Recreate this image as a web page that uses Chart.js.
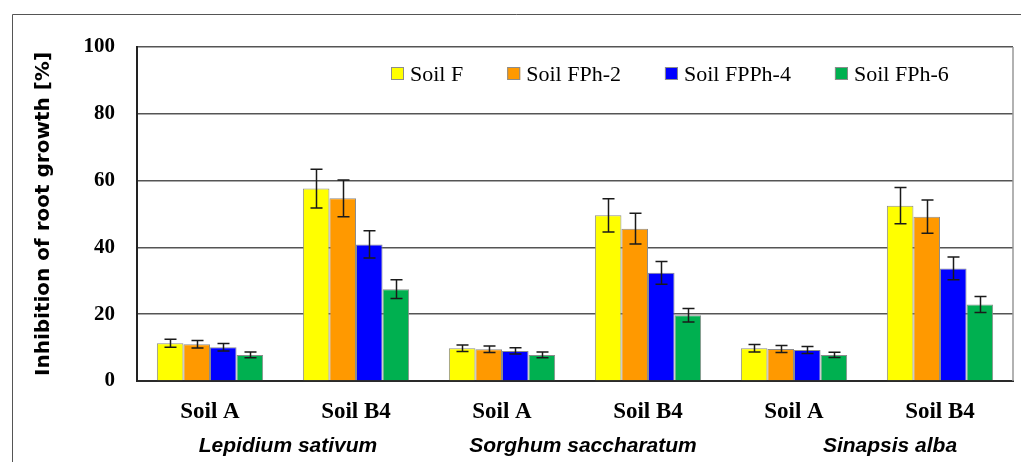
<!DOCTYPE html>
<html lang="en">
<head>
    <meta charset="UTF-8">
    <title>Inhibition of root growth</title>
    <script src="https://cdn.jsdelivr.net/npm/chart.js"></script>
    <style>
        html, body { margin: 0; padding: 0; background: #fff; }
        .chart-box { position: relative; width: 1021px; height: 462px; }
    </style>
</head>
<body>
    <div class="chart-box">
        <canvas id="rootChart"></canvas>
    </div>

    <script>
        // categories (soil per plant) and plant species under them
        const soils = ['Soil A', 'Soil B4', 'Soil A', 'Soil B4', 'Soil A', 'Soil B4'];
        const species = ['Lepidium sativum', 'Sorghum saccharatum', 'Sinapsis alba'];

        const seriesNames = ['Soil F', 'Soil FPh-2', 'Soil FPPh-4', 'Soil FPh-6'];
        const seriesColors = ['#ffff00', '#ff9900', '#0000ff', '#00b050'];

        // mean inhibition [%]
        const soilF     = [11.3, 57.6, 9.8, 49.6, 9.8, 52.5];
        const soilFPh2  = [11.0, 54.7, 9.5, 45.6, 9.6, 49.2];
        const soilFPPh4 = [10.1, 40.9, 9.0, 32.4, 9.3, 33.7];
        const soilFPh6  = [7.8, 27.5, 7.8, 19.7, 7.8, 22.9];

        // standard deviations
        const errF     = [1.2, 5.8, 1.0, 5.0, 1.1, 5.4];
        const errFPh2  = [1.1, 5.5, 1.0, 4.6, 1.05, 5.0];
        const errFPPh4 = [1.1, 4.1, 0.95, 3.4, 1.05, 3.4];
        const errFPh6  = [0.85, 2.8, 0.85, 2.0, 0.8, 2.4];

        const yTicks = [0, 20, 40, 60, 80, 100];

        const values = [soilF, soilFPh2, soilFPPh4, soilFPh6];
        const errors = [errF, errFPh2, errFPPh4, errFPh6];

        // outer frame (top and left edge only)
        const framePlugin = {
            id: 'frame',
            beforeDraw(chart) {
                const ctx = chart.ctx;
                ctx.save();
                ctx.strokeStyle = '#555';
                ctx.lineWidth = 1;
                ctx.beginPath();
                ctx.moveTo(12.5, chart.height);
                ctx.lineTo(12.5, 14.5);
                ctx.lineTo(chart.width, 14.5);
                ctx.stroke();
                ctx.restore();
            },
            afterDraw(chart) {
                // thin right edge of the plot
                const ctx = chart.ctx;
                const a = chart.chartArea;
                ctx.save();
                ctx.strokeStyle = '#999';
                ctx.lineWidth = 1.5;
                ctx.beginPath();
                ctx.moveTo(a.right, a.top);
                ctx.lineTo(a.right, a.bottom);
                ctx.stroke();
                ctx.restore();
            }
        };

        // +/- SD whiskers on every bar
        const errorBarPlugin = {
            id: 'errorBars',
            afterDatasetsDraw(chart) {
                const ctx = chart.ctx;
                const y = chart.scales.y;
                ctx.save();
                ctx.strokeStyle = '#1a1a1a';
                ctx.lineWidth = 1.5;
                chart.data.datasets.forEach((ds, i) => {
                    const meta = chart.getDatasetMeta(i);
                    meta.data.forEach((bar, j) => {
                        const v = ds.data[j];
                        const e = errors[i][j];
                        const top = y.getPixelForValue(v + e);
                        const bot = y.getPixelForValue(v - e);
                        const x = Math.round(bar.x) + 0.5;
                        ctx.beginPath();
                        ctx.moveTo(x, top);
                        ctx.lineTo(x, bot);
                        ctx.moveTo(x - 6, top);
                        ctx.lineTo(x + 6, top);
                        ctx.moveTo(x - 6, bot);
                        ctx.lineTo(x + 6, bot);
                        ctx.stroke();
                    });
                });
                ctx.restore();
            }
        };

        // legend inside the plot, one row
        const legendPlugin = {
            id: 'innerLegend',
            afterDraw(chart) {
                const ctx = chart.ctx;
                ctx.save();
                ctx.font = '22px "Liberation Serif"';
                ctx.textBaseline = 'alphabetic';
                let x = 391;
                chart.data.datasets.forEach(ds => {
                    ctx.fillStyle = ds.backgroundColor;
                    ctx.fillRect(x, 67, 13, 13);
                    ctx.strokeStyle = '#8c8c8c';
                    ctx.lineWidth = 1;
                    ctx.strokeRect(x + 0.5, 67.5, 12, 12);
                    ctx.fillStyle = '#000';
                    ctx.fillText(ds.label, x + 19, 81);
                    x += 19 + ctx.measureText(ds.label).width + 44;
                });
                ctx.restore();
            }
        };

        // species names centred under their pair of soils
        const speciesNudge = [5, 8, 23];
        const speciesPlugin = {
            id: 'speciesLabels',
            afterDraw(chart) {
                const ctx = chart.ctx;
                const xs = chart.scales.x;
                ctx.save();
                ctx.font = 'italic bold 21px "Liberation Sans"';
                ctx.textAlign = 'center';
                ctx.textBaseline = 'alphabetic';
                ctx.fillStyle = '#000';
                species.forEach((name, k) => {
                    const cx = (xs.getPixelForValue(2 * k) + xs.getPixelForValue(2 * k + 1)) / 2;
                    ctx.fillText(name, cx + speciesNudge[k], 452);
                });
                ctx.restore();
            }
        };

        new Chart(document.getElementById('rootChart'), {
            type: 'bar',
            data: {
                labels: soils,
                datasets: seriesNames.map((name, i) => ({
                    label: name,
                    data: values[i],
                    backgroundColor: seriesColors[i],
                    borderColor: '#8c8c8c',
                    borderWidth: 1,
                    barPercentage: 1,
                    categoryPercentage: 0.728
                }))
            },
            options: {
                responsive: true,
                maintainAspectRatio: false,
                animation: false,
                layout: { padding: { left: 0, right: 8, top: 47, bottom: 0 } },
                plugins: {
                    legend: { display: false },
                    tooltip: { enabled: false }
                },
                scales: {
                    x: {
                        grid: { display: false, drawTicks: false },
                        border: { color: '#2a2a2a', width: 2 },
                        ticks: {
                            color: '#000',
                            padding: 17,
                            font: { family: '"Liberation Serif"', size: 23, weight: 'bold' }
                        },
                        afterFit(scale) { scale.height = 81; }
                    },
                    y: {
                        min: 0,
                        max: 100,
                        afterBuildTicks(scale) {
                            scale.ticks = yTicks.map(v => ({ value: v }));
                        },
                        grid: { color: '#555', lineWidth: 1.5, drawTicks: false },
                        border: { color: '#222', width: 2 },
                        ticks: {
                            color: '#000',
                            padding: 22,
                            font: { family: '"Liberation Serif"', size: 21, weight: 'bold' }
                        },
                        title: {
                            display: true,
                            text: 'Inhibition of root growth [%]',
                            color: '#000',
                            padding: { top: 32, bottom: 0 },
                            font: { family: '"DejaVu Sans"', size: 20, weight: 'bold' }
                        },
                        afterFit(scale) { scale.width = 137; }
                    }
                }
            },
            plugins: [framePlugin, errorBarPlugin, legendPlugin, speciesPlugin]
        });
    </script>
</body>
</html>
